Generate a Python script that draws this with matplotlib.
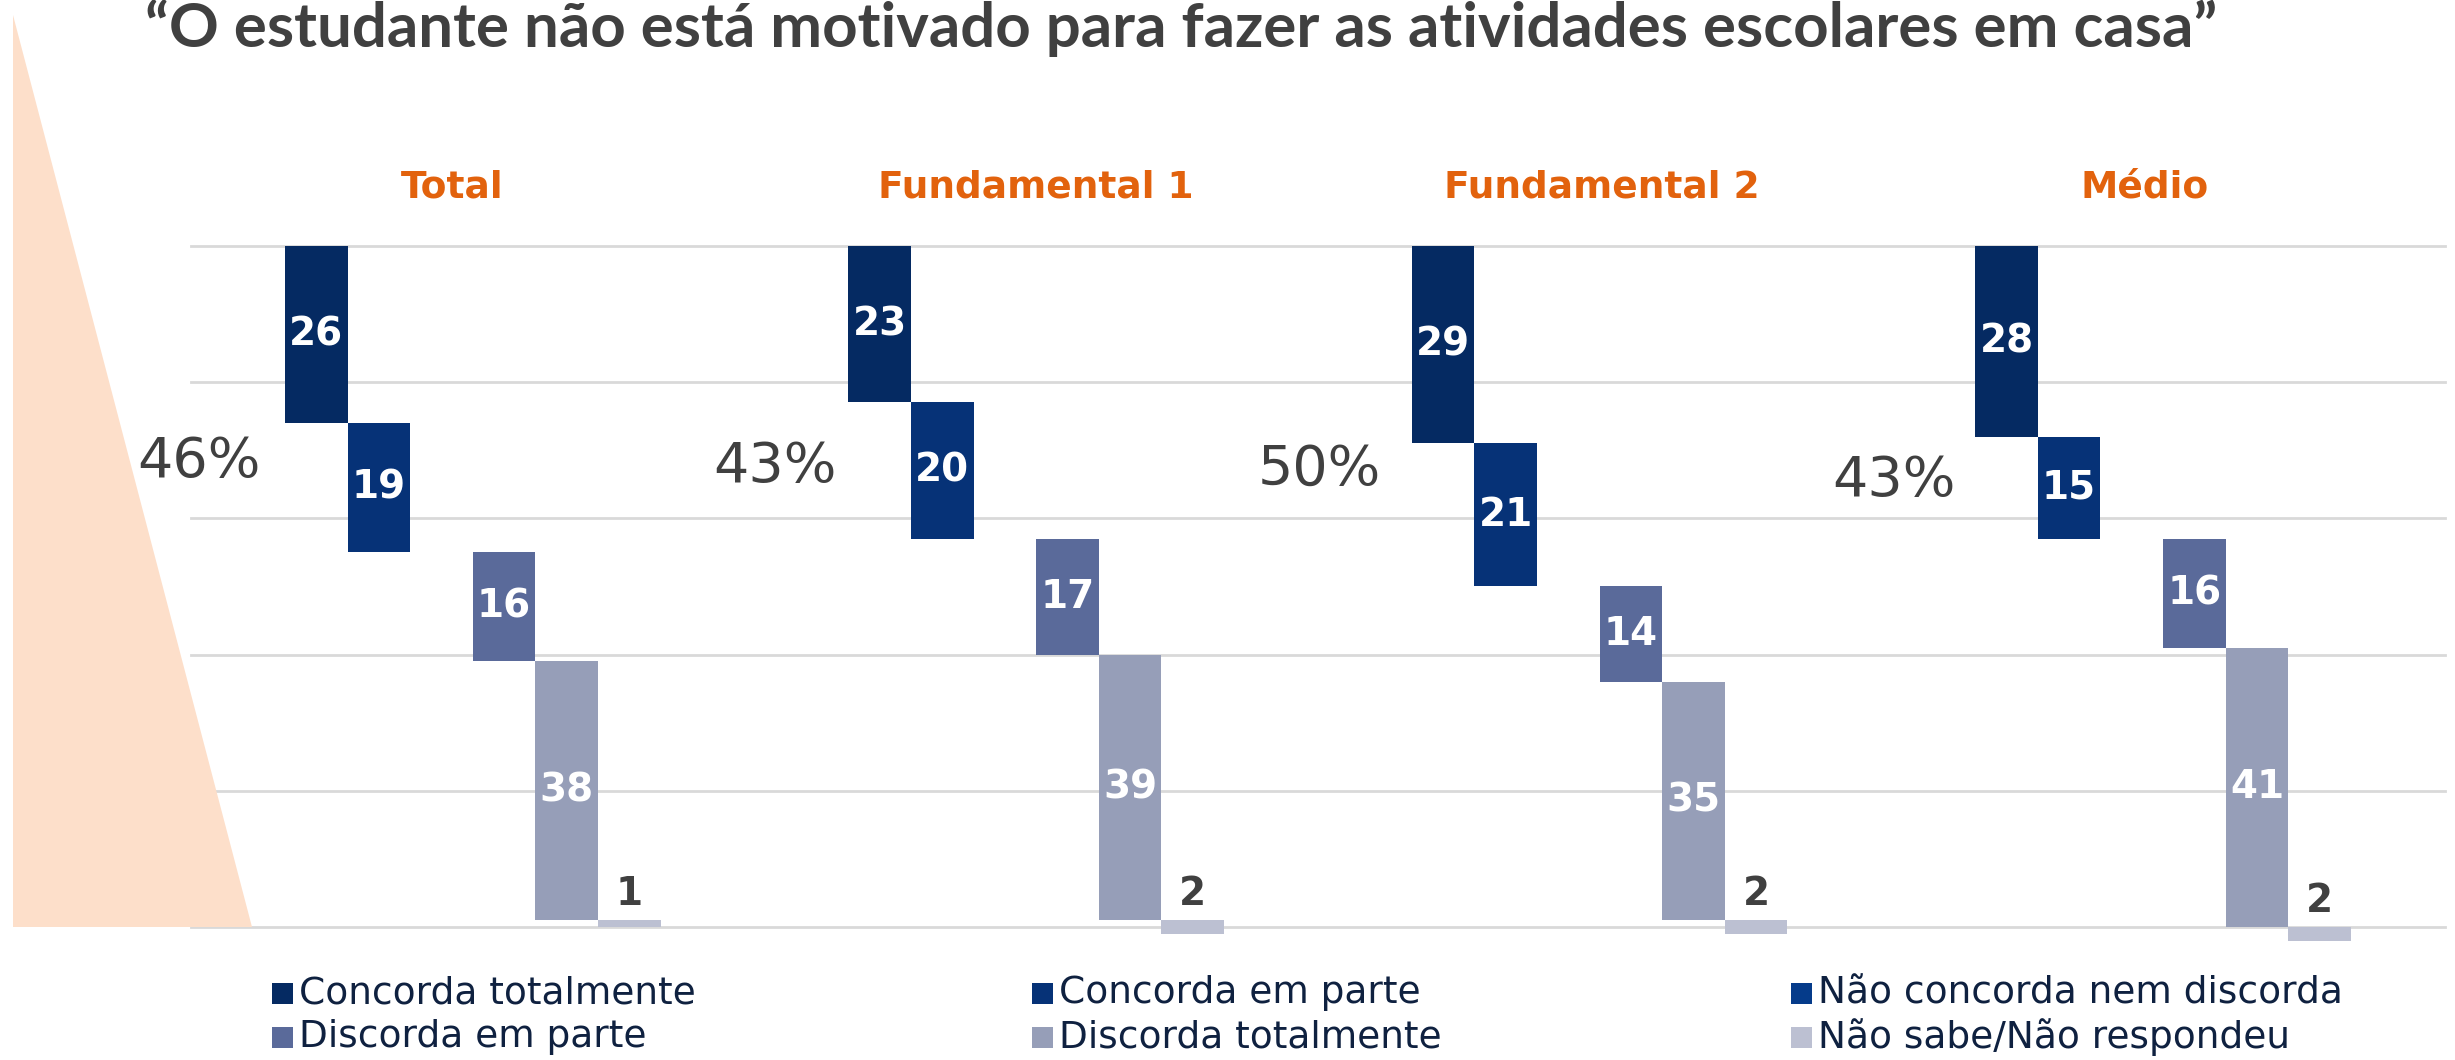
import matplotlib
matplotlib.use('Agg')
import matplotlib.pyplot as plt
from matplotlib.patches import Polygon, Rectangle

# data
groups = ['Total', 'Fundamental 1', 'Fundamental 2', 'Médio']
categories = ['Concorda totalmente', 'Concorda em parte', 'Não concorda nem discorda',
              'Discorda em parte', 'Discorda totalmente', 'Não sabe/Não respondeu']
total = [26, 19, 0, 16, 38, 1]
fund1 = [23, 20, 0, 17, 39, 2]
fund2 = [29, 21, 0, 14, 35, 2]
medio = [28, 15, 0, 16, 41, 2]
agree_labels = ['46%', '43%', '50%', '43%']

colors = ['#052A62', '#063277', '#053B8A', '#5A6A9A', '#969EB8', '#BCC0D2']
title = '\u201cO estudante não está motivado para fazer as atividades escolares em casa\u201d'

DARK = '#404040'
ORANGE = '#E2620D'

# layout tweaks (slot units inside each group of 9)
head_dx = [-0.33, 0.0, 0.04, -0.3]
pct_xy = [(0.13, 68.3), (0.33, 67.6), (0.03, 67.1), (0.2, 65.5)]

fig = plt.figure(figsize=(24.55, 10.6), dpi=100)

# peach wedge on the left edge
fig.patches.append(Polygon([(13 / 2455, 1 - 15 / 1060), (13 / 2455, 1 - 927 / 1060),
                            (252 / 2455, 1 - 927 / 1060)], closed=True,
                           transform=fig.transFigure, facecolor='#FDDFCA',
                           edgecolor='none', zorder=0))

ax = fig.add_axes([0.0778, 0.1255, 0.918, 0.6426])
ax.set_xlim(0, 36)
ax.set_ylim(0, 100)
ax.set_facecolor('none')
for s in ax.spines.values():
    s.set_visible(False)
ax.set_xticks([])
ax.set_yticks([])
for yv in range(0, 101, 20):
    ax.axhline(yv, color='#D9D9D9', lw=2, zorder=0, clip_on=False)

series = [total, fund1, fund2, medio]
for g, vals in enumerate(series):
    top = 100
    for k, v in enumerate(vals):
        x0 = g * 9 + 1.5 + k
        if v > 0:
            ax.bar(x0, -v, bottom=top, width=1, align='edge', color=colors[k],
                   linewidth=0, zorder=2, clip_on=False)
            if k == 5:
                ax.text(x0 + 0.5, top + 1.0, str(v), ha='center', va='bottom',
                        fontsize=28, fontweight='bold', color=DARK,
                        family='DejaVu Sans')
            else:
                ax.text(x0 + 0.5, top - v / 2, str(v), ha='center', va='center',
                        fontsize=28, fontweight='bold', color='white',
                        family='DejaVu Sans')
        top -= v
    # group heading and share that agrees
    ax.text(g * 9 + 4.5 + head_dx[g], 108.5, groups[g], ha='center', va='center',
            fontsize=27, fontweight='bold', color=ORANGE, family='DejaVu Sans',
            clip_on=False)
    px, py = pct_xy[g]
    ax.text(g * 9 + px, py, agree_labels[g], ha='center', va='center',
            fontsize=40, color=DARK, family='DejaVu Sans', clip_on=False)

fig.text(0.481, 1 - 28 / 1060, title, ha='center', va='center', fontsize=44.5,
         fontweight='bold', color=DARK, family='Lato')

# legend, three columns by two rows
col_x = [272 / 2455, 1032 / 2455, 1791 / 2455]
row_y = [1 - 993 / 1060, 1 - 1037 / 1060]
sq_w, sq_h = 21 / 2455, 21 / 1060
for i, lab in enumerate(categories):
    row = i // 3
    col = i % 3
    cx, cy = col_x[col], row_y[row]
    fig.patches.append(Rectangle((cx, cy - sq_h / 2), sq_w, sq_h,
                                 transform=fig.transFigure,
                                 facecolor=colors[i], edgecolor='none'))
    fig.text(cx + sq_w + 6 / 2455, cy, lab, ha='left', va='center', fontsize=27,
             color='#0F2140', family='DejaVu Sans')

fig.savefig('out.png', dpi=100)
